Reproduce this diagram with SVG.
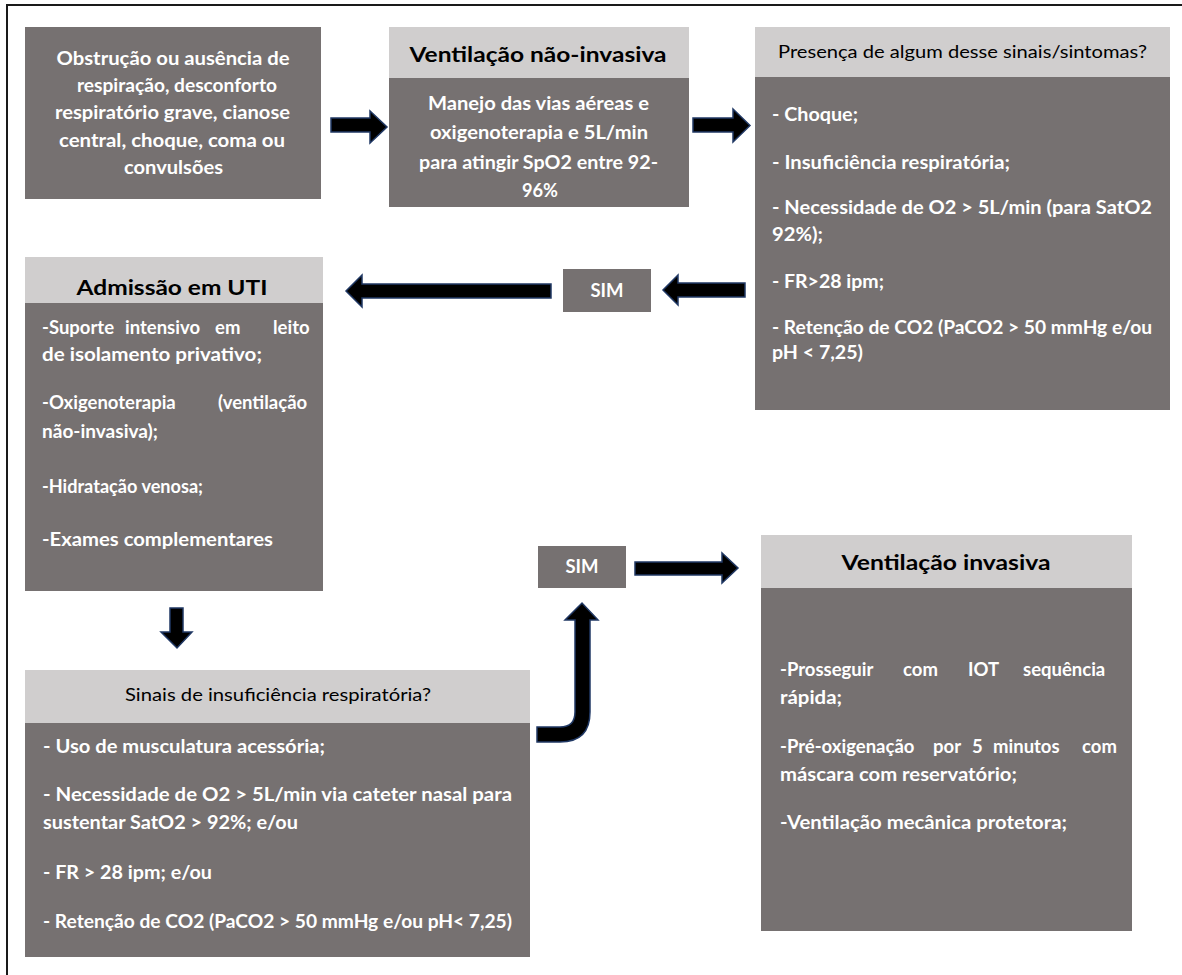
<svg xmlns="http://www.w3.org/2000/svg" width="1182" height="975" viewBox="0 0 1182 975">
<style>
.body{fill:#767171}
.head{fill:#d0cece}
.w{fill:#ffffff;font-family:Lato,"Liberation Sans",sans-serif;font-weight:bold;font-size:18.5px}
.wl{fill:#ffffff;font-family:Lato,"Liberation Sans",sans-serif;font-weight:bold;font-size:19.5px;text-anchor:middle}
.hb{fill:#000000;font-family:Lato,"Liberation Sans",sans-serif;font-weight:bold;font-size:21px;text-anchor:middle}
.hr{fill:#000000;font-family:Lato,"Liberation Sans",sans-serif;font-weight:normal;font-size:18px;text-anchor:middle}
.arr{fill:#000000;stroke:#203864;stroke-width:1.5;stroke-linejoin:miter}
</style>
<rect x="0" y="0" width="1182" height="975" fill="#ffffff"/>
<path d="M7,975 L7,5 L1182,5" fill="none" stroke="#1a1a1a" stroke-width="2"/>

<g id="n1">
<rect class="body" x="25" y="27" width="296" height="172"/>
<text class="wl" x="173" y="64.5" textLength="233" lengthAdjust="spacingAndGlyphs">Obstrução ou ausência de</text>
<text class="wl" x="177" y="91.5" textLength="200" lengthAdjust="spacingAndGlyphs">respiração, desconforto</text>
<text class="wl" x="172.5" y="119" textLength="235" lengthAdjust="spacingAndGlyphs">respiratório grave, cianose</text>
<text class="wl" x="172" y="146.5" textLength="226" lengthAdjust="spacingAndGlyphs">central, choque, coma ou</text>
<text class="wl" x="173.5" y="173.5" textLength="99" lengthAdjust="spacingAndGlyphs">convulsões</text>
</g>

<g id="n2">
<rect class="head" x="389" y="27" width="300" height="51"/>
<rect class="body" x="389" y="78" width="300" height="129"/>
<text class="hb" x="538" y="62" textLength="257" lengthAdjust="spacingAndGlyphs">Ventilação não-invasiva</text>
<text class="wl" x="538.5" y="109.5" textLength="221" lengthAdjust="spacingAndGlyphs">Manejo das vias aéreas e</text>
<text class="wl" x="539" y="138.5" textLength="218" lengthAdjust="spacingAndGlyphs">oxigenoterapia e 5L/min</text>
<text class="wl" x="538.5" y="168.5" textLength="239" lengthAdjust="spacingAndGlyphs">para atingir SpO2 entre 92-</text>
<text class="wl" x="540" y="196.5" textLength="36" lengthAdjust="spacingAndGlyphs">96%</text>
</g>

<g id="n3">
<rect class="head" x="755" y="27" width="415" height="50"/>
<rect class="body" x="755" y="77" width="415" height="333"/>
<text class="hr" x="962.5" y="58" textLength="369" lengthAdjust="spacingAndGlyphs">Presença de algum desse sinais/sintomas?</text>
<text class="w" x="772" y="121" textLength="86" lengthAdjust="spacingAndGlyphs">- Choque;</text>
<text class="w" x="772" y="169" textLength="238" lengthAdjust="spacingAndGlyphs">- Insuficiência respiratória;</text>
<text class="w" x="772" y="214" textLength="380" lengthAdjust="spacingAndGlyphs">- Necessidade de O2 &gt; 5L/min (para SatO2</text>
<text class="w" x="772" y="241" textLength="51" lengthAdjust="spacingAndGlyphs">92%);</text>
<text class="w" x="772" y="288" textLength="112" lengthAdjust="spacingAndGlyphs">- FR&gt;28 ipm;</text>
<text class="w" x="772" y="334" textLength="380" lengthAdjust="spacingAndGlyphs">- Retenção de CO2 (PaCO2 &gt; 50 mmHg e/ou</text>
<text class="w" x="772" y="359" textLength="91" lengthAdjust="spacingAndGlyphs">pH &lt; 7,25)</text>
</g>

<g id="n4">
<rect class="head" x="25" y="257" width="298" height="46"/>
<rect class="body" x="25" y="303" width="298" height="288"/>
<text class="hb" x="172" y="295" textLength="191" lengthAdjust="spacingAndGlyphs">Admissão em UTI</text>
<text class="w" y="334"><tspan x="42">-Suporte </tspan><tspan x="125">intensivo </tspan><tspan x="215">em </tspan><tspan x="273">leito</tspan></text>
<text class="w" x="42" y="361" textLength="220" lengthAdjust="spacingAndGlyphs">de isolamento privativo;</text>
<text class="w" y="409"><tspan x="42">-Oxigenoterapia </tspan><tspan x="218">(ventilação</tspan></text>
<text class="w" x="42" y="438" textLength="116" lengthAdjust="spacingAndGlyphs">não-invasiva);</text>
<text class="w" x="42" y="493" textLength="161" lengthAdjust="spacingAndGlyphs">-Hidratação venosa;</text>
<text class="w" x="42" y="546" textLength="231" lengthAdjust="spacingAndGlyphs">-Exames complementares</text>
</g>

<g id="sim1">
<rect class="body" x="563" y="269" width="88" height="43"/>
<text class="w" x="607" y="297" text-anchor="middle">SIM</text>
</g>

<g id="n5">
<rect class="head" x="25" y="670" width="505" height="53"/>
<rect class="body" x="25" y="723" width="505" height="234"/>
<text class="hr" x="278" y="701" textLength="306" lengthAdjust="spacingAndGlyphs">Sinais de insuficiência respiratória?</text>
<text class="w" x="43" y="753" textLength="282" lengthAdjust="spacingAndGlyphs">- Uso de musculatura acessória;</text>
<text class="w" x="43" y="801" textLength="469" lengthAdjust="spacingAndGlyphs">- Necessidade de O2 &gt; 5L/min via cateter nasal para</text>
<text class="w" x="43" y="829" textLength="255" lengthAdjust="spacingAndGlyphs">sustentar SatO2 &gt; 92%; e/ou</text>
<text class="w" x="43" y="879" textLength="169" lengthAdjust="spacingAndGlyphs">- FR &gt; 28 ipm; e/ou</text>
<text class="w" x="43" y="928" textLength="469" lengthAdjust="spacingAndGlyphs">- Retenção de CO2 (PaCO2 &gt; 50 mmHg e/ou pH&lt; 7,25)</text>
</g>

<g id="sim2">
<rect class="body" x="538" y="546" width="88" height="42"/>
<text class="w" x="582" y="573" text-anchor="middle">SIM</text>
</g>

<g id="n6">
<rect class="head" x="761" y="535" width="371" height="53"/>
<rect class="body" x="761" y="588" width="371" height="343"/>
<text class="hb" x="946" y="570" textLength="209" lengthAdjust="spacingAndGlyphs">Ventilação invasiva</text>
<text class="w" y="676"><tspan x="780">-Prosseguir </tspan><tspan x="903">com </tspan><tspan x="968">IOT </tspan><tspan x="1023">sequência</tspan></text>
<text class="w" x="780" y="704" textLength="62" lengthAdjust="spacingAndGlyphs">rápida;</text>
<text class="w" y="753"><tspan x="780">-Pré-oxigenação </tspan><tspan x="933">por </tspan><tspan x="972">5 </tspan><tspan x="993">minutos </tspan><tspan x="1082">com</tspan></text>
<text class="w" x="780" y="781" textLength="237" lengthAdjust="spacingAndGlyphs">máscara com reservatório;</text>
<text class="w" x="780" y="829" textLength="287" lengthAdjust="spacingAndGlyphs">-Ventilação mecânica protetora;</text>
</g>

<g id="connectors">
<path class="arr" d="M331,118 L370,118 L370,111 L387,127 L370,143 L370,132 L331,132 Z"/>
<path class="arr" d="M693,118 L733,118 L733,109 L750,125.5 L733,142 L733,132 L693,132 Z"/>
<path class="arr" d="M551,284 L362,284 L362,275 L346,291 L362,307 L362,298 L551,298 Z"/>
<path class="arr" d="M745,283 L678,283 L678,275 L663,290 L678,305 L678,297 L745,297 Z"/>
<path class="arr" d="M170,608 L183,608 L183,632 L192,632 L177,648 L161,632 L170,632 Z"/>
<path class="arr" d="M635,562 L722,562 L722,553 L738,568 L722,583 L722,575 L635,575 Z"/>
<path class="arr" d="M537,727 L560,727 Q575,727 575,712 L575,620 L565,620 L582,603 L598,620 L590,620 L590,712 Q590,742 560,742 L537,742 Z"/>
</g>
</svg>
